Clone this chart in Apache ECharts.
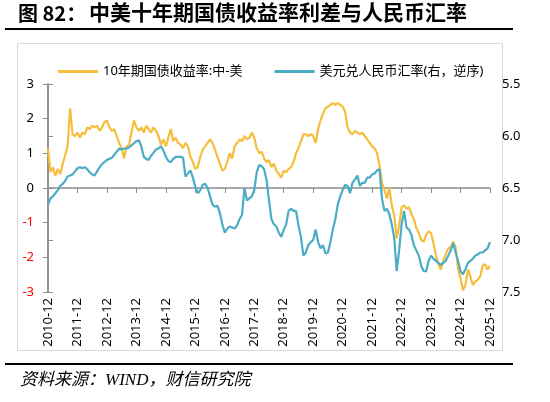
<!DOCTYPE html>
<html>
<head>
<meta charset="utf-8">
<script src="https://cdn.jsdelivr.net/npm/echarts@6/dist/echarts.min.js"></script>
<style>
html,body{margin:0;padding:0;background:#fff;}
#chart{width:550px;height:402px;}
</style>
</head>
<body>
<div id="chart"></div>
<script>
// Months since 2010-12 (index 0 = 2010-12, index 180 = 2025-12)
var xTickYears = ['2010-12','2011-12','2012-12','2013-12','2014-12','2015-12','2016-12','2017-12','2018-12','2019-12','2020-12','2021-12','2022-12','2023-12','2024-12','2025-12'];
var leftTicks = [-3, -2, -1, 0, 1, 2, 3];
var rightTicks = [5.5, 6.0, 6.5, 7.0, 7.5];
var seriesNames = ['10年期国债收益率:中-美', '美元兑人民币汇率(右，逆序)'];

// 10Y government bond yield spread China - US (%), monthly from 2010-12
var spread = [
  1.15, 0.45, 0.6, 0.35, 0.55, 0.4, 0.7, 0.95, 1.2, 2.3, 1.55, 1.5,
  1.6, 1.45, 1.6, 1.55, 1.75, 1.7, 1.8, 1.75, 1.8, 1.65, 1.75, 1.9,
  1.95, 1.75, 1.65, 1.7, 1.5, 1.3, 1.15, 0.85, 1.2, 1.25, 1.6, 1.95,
  1.75, 1.65, 1.75, 1.6, 1.8, 1.7, 1.6, 1.75, 1.65, 1.5, 1.25, 1.4,
  1.2, 1.45, 1.7, 1.35, 1.45, 1.3, 1.25, 1.15, 1.3, 1.2, 0.9, 0.75,
  0.55, 0.6, 0.9, 1.1, 1.2, 1.3, 1.4, 1.3, 1.1, 0.9, 0.7, 0.5,
  0.55, 0.75, 1.0, 0.85, 1.2, 1.3, 1.4, 1.35, 1.5, 1.4, 1.45, 1.6,
  1.45, 1.15, 1.0, 1.05, 0.85, 0.75, 0.8, 0.6, 0.7, 0.5, 0.4, 0.3,
  0.5, 0.45, 0.55, 0.6, 0.75, 1.0, 1.15, 1.35, 1.55, 1.55, 1.5, 1.55,
  1.5, 1.3, 1.7, 1.95, 2.15, 2.3, 2.35, 2.4, 2.45, 2.4, 2.45, 2.4,
  2.35, 2.2, 1.75, 1.6, 1.55, 1.65, 1.6, 1.55, 1.6, 1.5, 1.4, 1.3,
  1.2, 1.15, 1.0, 0.65, 0.15, -0.05, -0.3, 0.0, -0.5, -0.8, -1.45, -1.1,
  -0.55, -0.5, -0.6, -0.55, -0.75, -0.9, -1.15, -1.3, -1.5, -1.55, -1.35, -1.25,
  -1.3, -1.6, -1.95, -2.2, -2.35, -2.1, -1.9, -1.75, -1.7, -1.55, -1.7, -2.35,
  -2.6, -2.95, -2.8, -2.35, -2.55, -2.8, -2.7, -2.65, -2.55, -2.25, -2.2, -2.35, -2.25
];

// USD/CNY (right axis, inverted), monthly from 2010-12
var usdcny = [
  6.66, 6.6, 6.58, 6.55, 6.52, 6.48, 6.46, 6.43, 6.39, 6.38, 6.37, 6.34,
  6.31, 6.3, 6.31, 6.3, 6.32, 6.35, 6.37, 6.38, 6.34, 6.3, 6.27, 6.25,
  6.23, 6.22, 6.21, 6.18, 6.15, 6.12, 6.13, 6.12, 6.12, 6.11, 6.09, 6.07,
  6.05, 6.04, 6.1, 6.2, 6.22, 6.23, 6.19, 6.16, 6.13, 6.12, 6.1, 6.14,
  6.2, 6.24, 6.25, 6.22, 6.2, 6.2, 6.2, 6.21, 6.39, 6.36, 6.33, 6.4,
  6.49, 6.55, 6.52, 6.47, 6.46, 6.5, 6.58, 6.66, 6.68, 6.67, 6.74, 6.85,
  6.93, 6.89, 6.87, 6.88, 6.89, 6.86, 6.8, 6.76, 6.5, 6.62, 6.6, 6.58,
  6.52, 6.35, 6.28, 6.29, 6.32, 6.42, 6.62, 6.8, 6.85, 6.87, 6.93, 6.97,
  6.9, 6.85, 6.72, 6.7, 6.72, 6.72, 6.86, 6.97, 7.15, 7.12, 7.05, 7.02,
  7.0, 6.9, 7.02, 7.08, 7.05, 7.13, 7.12, 7.02, 6.9, 6.8, 6.66, 6.58,
  6.52, 6.47, 6.48, 6.55, 6.45, 6.42, 6.38, 6.48, 6.45, 6.45, 6.4, 6.4,
  6.37, 6.36, 6.33, 6.32, 6.6, 6.72, 6.7, 6.75, 6.85, 6.98, 7.3, 7.1,
  6.85, 6.72, 6.88, 6.9, 6.95, 7.05, 7.1, 7.15, 7.25, 7.3, 7.3, 7.2,
  7.15, 7.18, 7.2, 7.22, 7.24, 7.22, 7.2, 7.15, 7.1, 7.03, 7.12, 7.2,
  7.3, 7.33, 7.28, 7.22, 7.2, 7.18, 7.15, 7.14, 7.12, 7.12, 7.1, 7.08, 7.02
];

var FONT = '"Noto Sans", "Noto Sans CJK SC", sans-serif';
var YELLOW = '#F6BE3C';
var BLUE = '#4BACC6';
var AXIS = '#8C8C8C';

function toPairs(arr) { return arr.map(function (v, i) { return [i, v]; }); }
function monthLabel(m) {
  if (m % 12 !== 0) return '';
  return xTickYears[m / 12] || '';
}

var chart = echarts.init(document.getElementById('chart'));
chart.setOption({
  animation: false,
  backgroundColor: '#fff',
  graphic: [
    { type: 'text', left: 18, top: 3, style: { text: '图 82：', font: 'bold 20px "Noto Sans CJK SC", sans-serif', fill: '#000' } },
    { type: 'text', left: 89, top: 2, style: { text: '中美十年期国债收益率利差与人民币汇率', font: 'bold 21px "Noto Sans CJK SC", sans-serif', fill: '#000' } },
    { type: 'rect', shape: { x: 5, y: 28, width: 508, height: 2 }, style: { fill: '#000' } },
    { type: 'rect', shape: { x: 17.5, y: 43.5, width: 485, height: 307 }, style: { fill: 'none', stroke: '#D9D9D9', lineWidth: 1 } },
    { type: 'rect', shape: { x: 5, y: 363, width: 508, height: 2 }, style: { fill: '#000' } },
    { type: 'text', left: 20, top: 372, style: { text: '资料来源：WIND，财信研究院', font: 'italic 17px "Liberation Serif", "Noto Sans CJK SC", serif', fill: '#000' } }
  ],
  legend: {
    left: 53, top: 60,
    itemWidth: 40, itemHeight: 3, itemGap: 32,
    icon: 'rect',
    textStyle: { fontSize: 13, fontFamily: FONT, color: '#000' },
    data: seriesNames
  },
  grid: { left: 48, right: 60, top: 84, bottom: 110 },
  xAxis: [
    {
      type: 'value', min: 0, max: 180, interval: 12,
      axisLine: { onZero: true, onZeroAxisIndex: 0, lineStyle: { color: AXIS, width: 1.5 } },
      axisTick: { show: true, inside: false, length: 5, lineStyle: { color: AXIS, width: 1 } },
      axisLabel: { show: false },
      splitLine: { show: false }
    },
    {
      type: 'value', min: 0, max: 180, interval: 12, position: 'bottom',
      axisLine: { show: false, onZero: false },
      axisTick: { show: false },
      axisLabel: { show: true, rotate: 90, margin: 6, fontSize: 13, fontFamily: FONT, color: '#000', formatter: monthLabel },
      splitLine: { show: false }
    }
  ],
  yAxis: [
    {
      type: 'value', min: -3, max: 3, interval: 1, position: 'left',
      axisLine: { show: true, lineStyle: { color: AXIS, width: 1.5 } },
      axisTick: { show: true, length: 5, lineStyle: { color: AXIS } },
      axisLabel: { margin: 14, fontSize: 13, fontFamily: FONT, color: function (v) { return v < 0 ? '#FF0000' : '#000'; } },
      splitLine: { show: false }
    },
    {
      type: 'value', min: 5.5, max: 7.5, interval: 0.5, inverse: true, position: 'right',
      axisLine: { show: true, lineStyle: { color: AXIS, width: 1.5 } },
      axisTick: { show: true, length: 5, lineStyle: { color: AXIS } },
      axisLabel: { margin: 12, fontSize: 13, fontFamily: FONT, color: '#000', formatter: function (v) { return v.toFixed(1); } },
      splitLine: { show: false }
    }
  ],
  series: [
    {
      name: seriesNames[0], type: 'line', xAxisIndex: 0, yAxisIndex: 0,
      data: toPairs(spread), showSymbol: false, symbol: 'none',
      lineStyle: { color: YELLOW, width: 2.2 }, itemStyle: { color: YELLOW }
    },
    {
      name: seriesNames[1], type: 'line', xAxisIndex: 0, yAxisIndex: 1,
      data: toPairs(usdcny), showSymbol: false, symbol: 'none',
      lineStyle: { color: BLUE, width: 2.2 }, itemStyle: { color: BLUE }
    }
  ]
});
</script>
</body>
</html>
